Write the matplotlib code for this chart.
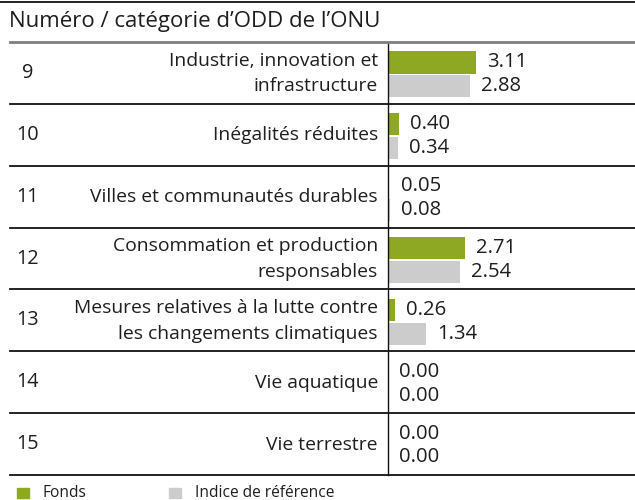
import matplotlib
matplotlib.use("Agg")
import matplotlib.pyplot as plt
import matplotlib.transforms as mtransforms
from matplotlib.lines import Line2D

plt.rcParams['font.family'] = ['Open Sans', 'DejaVu Sans']

numbers = ["9", "10", "11", "12", "13", "14", "15"]
categories = [
    "Industrie, innovation et\ninfrastructure",
    "Inégalités réduites",
    "Villes et communautés durables",
    "Consommation et production\nresponsables",
    "Mesures relatives à la lutte contre\nles changements climatiques",
    "Vie aquatique",
    "Vie terrestre",
]
fund = [3.11, 0.40, 0.05, 2.71, 0.26, 0.00, 0.00]
index = [2.88, 0.34, 0.08, 2.54, 1.34, 0.00, 0.00]

header = "Numéro / catégorie d\u2019ODD de l\u2019ONU"
legend_labels = ["Fonds", "Indice de référence"]

GREEN = "#8FA823"
GREY = "#CCCCCC"
TXT = "#1e1e1e"
FS = 13.9      # category labels
FS_VAL = 14.6  # value labels
FS_NUM = 14.3  # SDG numbers
FS_HEAD = 16.0
FS_LEG = 11.2

W, H = 635, 500
fig = plt.figure(figsize=(W / 100, H / 100), dpi=100)
ax = fig.add_axes([388 / W, 1 - 475 / H, (W - 388) / W, (475 - 42) / H])

n = len(categories)
rows = list(range(n))
ax.barh([r + 0.33 for r in rows], fund, height=0.36, color=GREEN)
ax.barh([r + 0.715 for r in rows], index, height=0.36, color=GREY)

for r in rows:
    ax.annotate(f"{fund[r]:.2f}", (fund[r], r + 0.33), xytext=(8, 0),
                textcoords="offset points", va="center", ha="left",
                fontsize=FS_VAL, color=TXT)
    ax.annotate(f"{index[r]:.2f}", (index[r], r + 0.715), xytext=(8, 0),
                textcoords="offset points", va="center", ha="left",
                fontsize=FS_VAL, color=TXT)

ax.set_xlim(0, 8.7)
ax.set_ylim(n, 0)
ax.set_xticks([])
ax.set_yticks([])
for s in ["top", "right", "bottom"]:
    ax.spines[s].set_visible(False)
ax.spines["left"].set_color("#111111")
ax.spines["left"].set_linewidth(1.0)
ax.patch.set_visible(False)

# left-hand text columns
trans = mtransforms.blended_transform_factory(fig.transFigure, ax.transData)
for r in rows:
    fig.text(28 / W, r + 0.5, numbers[r], transform=trans, ha="center",
             va="center", fontsize=FS_NUM, color=TXT)
    fig.text(378 / W, r + 0.51, categories[r], transform=trans, ha="right",
             va="center", fontsize=FS, color=TXT, linespacing=1.52)

# row separators
fig.add_artist(Line2D([10 / W, 1], [0, 0], transform=trans, color="#7f7f7f", lw=2.0))
for r in range(1, n + 1):
    fig.add_artist(Line2D([10 / W, 1], [r, r], transform=trans, color="#111111", lw=1.3))

# top border and header
fig.add_artist(Line2D([0, 1], [1 - 2 / H, 1 - 2 / H], color="#111111", lw=1.3))
fig.text(9 / W, 1 - 21 / H, header, ha="left", va="center", fontsize=FS_HEAD, color=TXT)

# legend
for x0, col, lab in [(17, GREEN, legend_labels[0]), (169, GREY, legend_labels[1])]:
    fig.patches.append(plt.Rectangle((x0 / W, 1 - 498 / H), 12 / W, 10 / H,
                                     transform=fig.transFigure, color=col))
    fig.text((x0 + 26) / W, 1 - 493 / H, lab, ha="left", va="center",
             fontsize=FS_LEG, color=TXT)

fig.savefig("out.png", dpi=100)
